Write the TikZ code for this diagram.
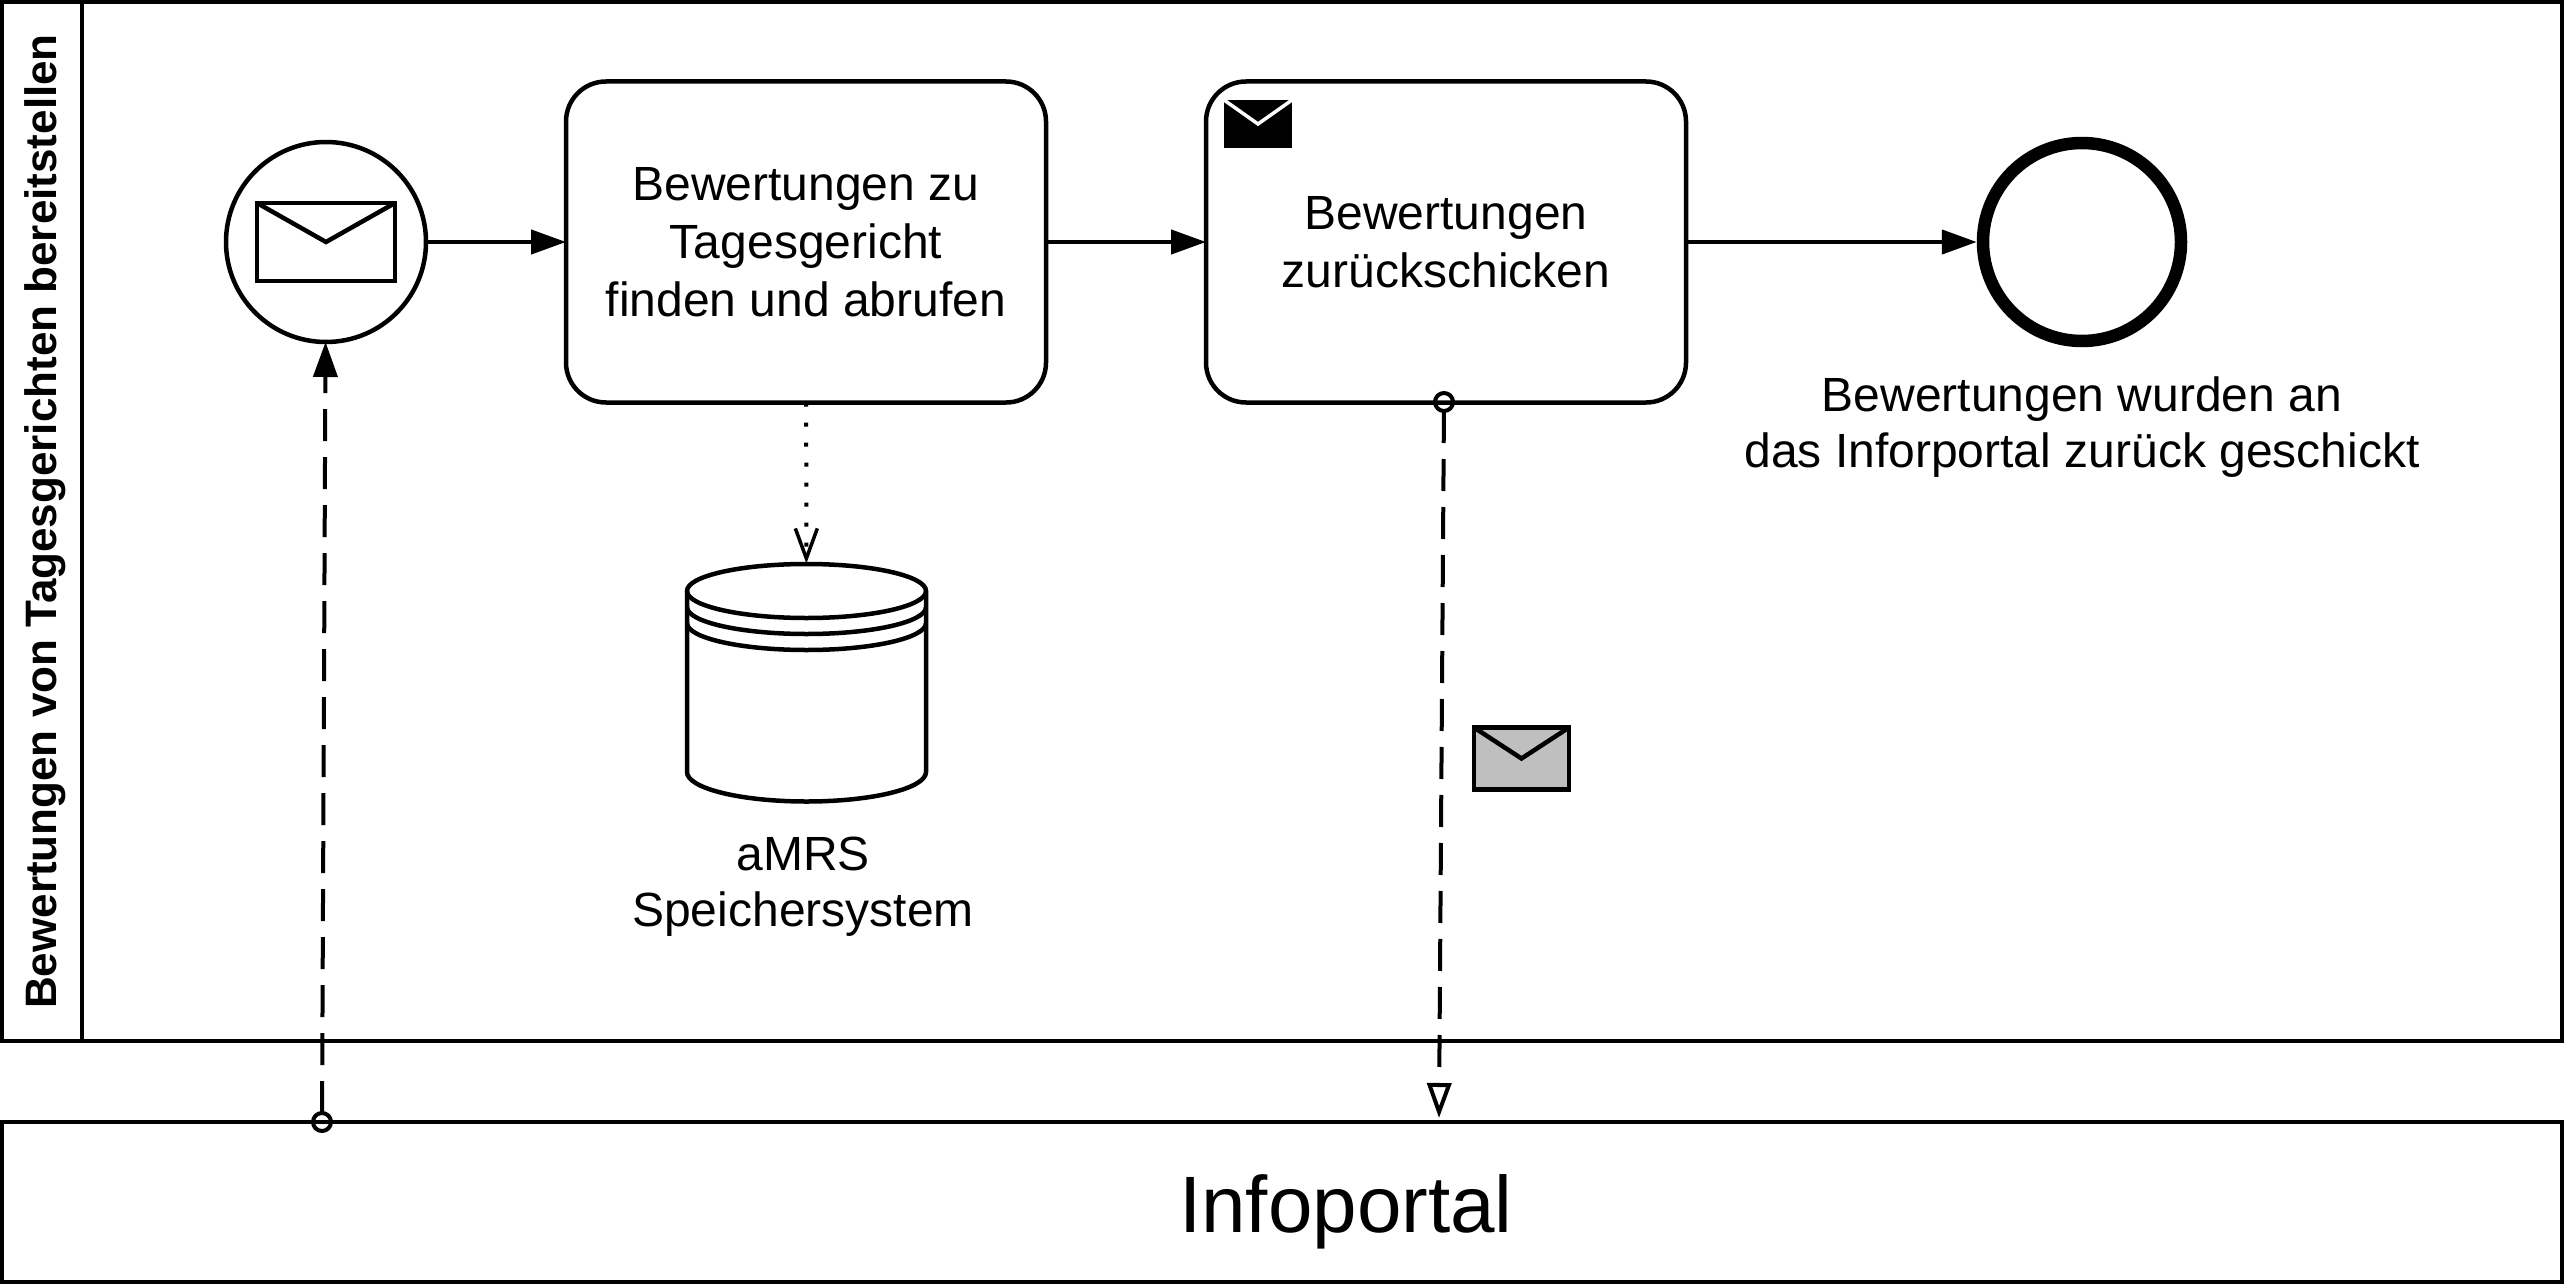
\documentclass[tikz,border=0pt]{standalone}
\usepackage{fontspec}
\setmainfont{Liberation Sans}
\usepackage{tikz}
\usetikzlibrary{arrows.meta}
\definecolor{envgray}{rgb}{0.75,0.75,0.75}
\tikzset{
	lane/.style={draw, line width=4.5pt, outer sep=0pt, inner sep=0pt},
	task/.style={draw, line width=4.5pt, rounded corners=40pt, minimum width=480pt, minimum height=321pt, outer sep=0pt, inner sep=0pt, align=center, font=\fontsize{48}{58}\selectfont},
	envelope/.style={draw, line width=4.5pt, outer sep=0pt, inner sep=0pt},
	label/.style={align=center, inner sep=0pt, font=\fontsize{48}{56}\selectfont},
	port/.style={draw, circle, line width=4pt, minimum size=18pt, inner sep=0pt, outer sep=0pt},
	seqflow/.style={line width=4.5pt, -{Triangle[length=35pt, width=24pt]}},
	msgflow/.style={line width=4pt, dash pattern=on 32pt off 16pt}
}
\begin{document}
\begin{tikzpicture}[x=1pt, y=-1pt]
	\useasboundingbox (0,0) rectangle (2564,1284);
	% pool and header
	\node[lane, minimum width=2560pt, minimum height=1039pt] (pool) at (1282,521.5) {};
	\node[lane, rotate=90, minimum width=1039pt, minimum height=80pt, text height=38pt, font=\fontsize{44}{52}\selectfont\bfseries] (lanehead) at (42,521.5) {Bewertungen von Tagesgerichten bereitstellen};
	\node[lane, minimum width=2560pt, minimum height=160pt] (infoportal) at (1282,1202) {};
	\node[inner sep=0pt, font=\fontsize{80}{92}\selectfont] (infotext) at (1346,1212) {Infoportal};

	% events and tasks
	\node[draw, circle, line width=4.5pt, minimum size=200pt, inner sep=0pt, outer sep=0pt] (startev) at (326,242) {};
	\node[envelope, minimum width=138pt, minimum height=78pt] (startenv) at (326,242) {};
	\draw[line width=4.5pt] (startenv.north west) -- (startenv.center) -- (startenv.north east);
	\node[task] (findtask) at (806,242) {Bewertungen zu\\Tagesgericht\\finden und abrufen};
	\node[task] (sendtask) at (1446,242) {Bewertungen\\zurückschicken};
	\node[fill=black, minimum width=68pt, minimum height=48pt, inner sep=0pt, outer sep=0pt] (sendenv) at (1258,124) {};
	\draw[white, line width=3.5pt] (sendenv.north west) -- (sendenv.center) -- (sendenv.north east);
	\node[draw, circle, line width=12.5pt, minimum size=198pt, inner sep=0pt] (endev) at (2082,242) {};
	\node[label] (endlabel) at (2082,427) {Bewertungen wurden an\\das Inforportal zurück geschickt};

	% data store
	\node[minimum width=239pt, minimum height=238pt, inner sep=0pt, outer sep=0pt] (store) at (806.5,682.5) {};
	\draw[line width=4.5pt] (687,591) arc[start angle=180, end angle=0, x radius=119.5pt, y radius=27pt] -- (926,772) arc[start angle=0, end angle=-180, x radius=119.5pt, y radius=29.5pt] -- cycle;
	\foreach \y in {591,607,623} {
		\draw[line width=4.5pt] (687,\y) arc[start angle=180, end angle=360, x radius=119.5pt, y radius=27pt];
	}
	\node[label] (storelabel) at (803,887) {aMRS\\Speichersystem};

	% message
	\node[envelope, fill=envgray, minimum width=95pt, minimum height=62pt] (msgenv) at (1521.5,758.5) {};
	\draw[line width=4.5pt] (msgenv.north west) -- (msgenv.center) -- (msgenv.north east);

	% connectors
	\node[port] (startport) at (322,1122) {};
	\node[port] (sendport) at (1444,402) {};
	\coordinate (msgend) at (1439,1118);
	\draw[seqflow] (startev) -- (findtask);
	\draw[seqflow] (findtask) -- (sendtask);
	\draw[seqflow] (sendtask) -- (endev);
	\draw[line width=4pt, dash pattern=on 4pt off 16pt, -{Straight Barb[length=30pt, width=22pt, line width=3.5pt]}] (findtask) -- (store);
	\draw[msgflow, -{Triangle[length=35pt, width=24pt]}] (startport) -- (startev);
	\draw[msgflow, -{Triangle[open, length=35pt, width=24pt, fill=white]}] (sendport) -- (msgend);
\end{tikzpicture}
\end{document}
